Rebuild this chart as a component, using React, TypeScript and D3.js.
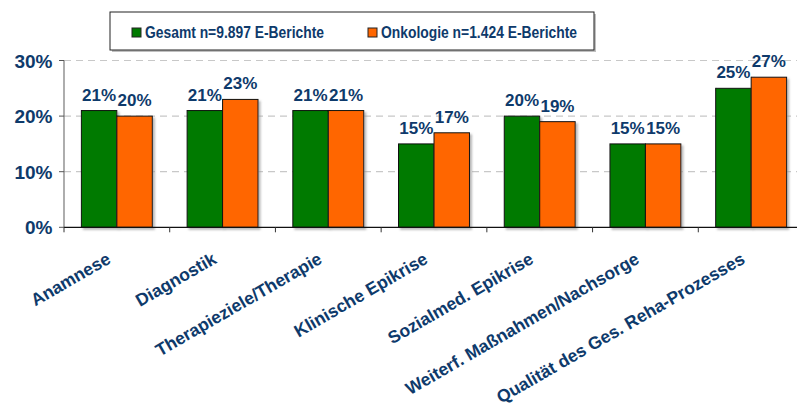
import React from "react";
import * as d3 from "d3";

const categories = [
  "Anamnese",
  "Diagnostik",
  "Therapieziele/Therapie",
  "Klinische Epikrise",
  "Sozialmed. Epikrise",
  "Weiterf. Maßnahmen/Nachsorge",
  "Qualität des Ges. Reha-Prozesses",
];
const gesamt = [21, 21, 21, 15, 20, 15, 25];
const onkologie = [20, 23, 21, 17, 19, 15, 27];
const seriesNames = ["Gesamt n=9.897 E-Berichte", "Onkologie n=1.424 E-Berichte"];
const yTicks = [0, 10, 20, 30];

const W = 797, H = 406;
const left = 64, right = 804, top = 60.5, bottom = 227.3;
const colors = ["#007A00", "#FF6600"];
const textColor = "#0E3A6B";
const font = "'Liberation Sans', Arial, sans-serif";

export default function App() {
  const x = d3.scaleBand<string>().domain(categories).range([left, right]);
  const inner = d3.scaleBand<number>().domain([0, 1]).range([0, x.bandwidth()]).paddingOuter(0.49).paddingInner(0);
  const y = d3.scaleLinear().domain([0, 30]).range([bottom, top]);
  const series = [gesamt, onkologie];

  return (
    <svg width={W} height={H} style={{ position: "absolute", left: 0, top: 0, background: "#fff" }} fontFamily={font}>
      <defs>
        <filter id="sh" x="-10%" y="-10%" width="130%" height="130%">
          <feDropShadow dx="2" dy="2" stdDeviation="0.8" floodColor="#999" floodOpacity="0.7" />
        </filter>
      </defs>
      {yTicks.filter((t) => t > 0).map((t) => (
        <line key={t} x1={left} x2={W} y1={y(t)} y2={y(t)} stroke="#C8C8C8" strokeWidth={1.2} strokeDasharray="7,5" />
      ))}
      {categories.map((c, i) => (
        <g key={c}>
          {series.map((s, k) => (
            <rect
              key={k}
              x={(x(c) as number) + (inner(k) as number)}
              y={y(s[i])}
              width={inner.bandwidth()}
              height={bottom - y(s[i])}
              fill={colors[k]}
              stroke="#111"
              strokeWidth={1}
              filter="url(#sh)"
            />
          ))}
          {series.map((s, k) => (
            <text
              key={"t" + k}
              x={(x(c) as number) + (inner(k) as number) + inner.bandwidth() / 2}
              y={y(s[i]) - 10}
              textAnchor="middle"
              fontSize={17}
              fontWeight="bold"
              fill={textColor}
            >
              {s[i]}%
            </text>
          ))}
        </g>
      ))}
      <line x1={left} x2={left} y1={top} y2={bottom} stroke="#777" strokeWidth={1.2} />
      {yTicks.map((t) => (
        <g key={t}>
          <line x1={left - 5} x2={left} y1={y(t)} y2={y(t)} stroke="#555" />
          <text x={52.5} y={y(t) + 7} textAnchor="end" fontSize={19} fontWeight="bold" fill={textColor}>
            {t}%
          </text>
        </g>
      ))}
      <line x1={left} x2={W} y1={bottom} y2={bottom} stroke="#111" strokeWidth={1.2} />
      {categories.map((c) => (
        <line key={c} x1={(x(c) as number)} x2={(x(c) as number)} y1={bottom} y2={bottom + 5} stroke="#333" />
      ))}
      {categories.map((c) => {
        const cx = (x(c) as number) + x.bandwidth() / 2 - 5;
        const cy = bottom + 35;
        return (
          <text
            key={c}
            transform={`translate(${cx},${cy}) rotate(-30)`}
            textAnchor="end"
            fontSize={17.5}
            fontWeight="bold"
            fill={textColor}
          >
            {c}
          </text>
        );
      })}
      <rect x={112} y={14} width={484} height={38} fill="#C0C0C0" />
      <rect x={110} y={12} width={484} height={38} fill="#fff" stroke="#222" strokeWidth={1} />
      {seriesNames.map((n, k) => {
        const lx = k === 0 ? 132 : 368;
        return (
          <g key={n}>
            <rect x={lx} y={28} width={9} height={9} fill={colors[k]} stroke="#222" strokeWidth={1} />
            <text x={lx + 13} y={38} fontSize={16} fontWeight="bold" fill={textColor} textLength={k === 0 ? 179 : 196} lengthAdjust="spacingAndGlyphs">
              {n}
            </text>
          </g>
        );
      })}
    </svg>
  );
}
